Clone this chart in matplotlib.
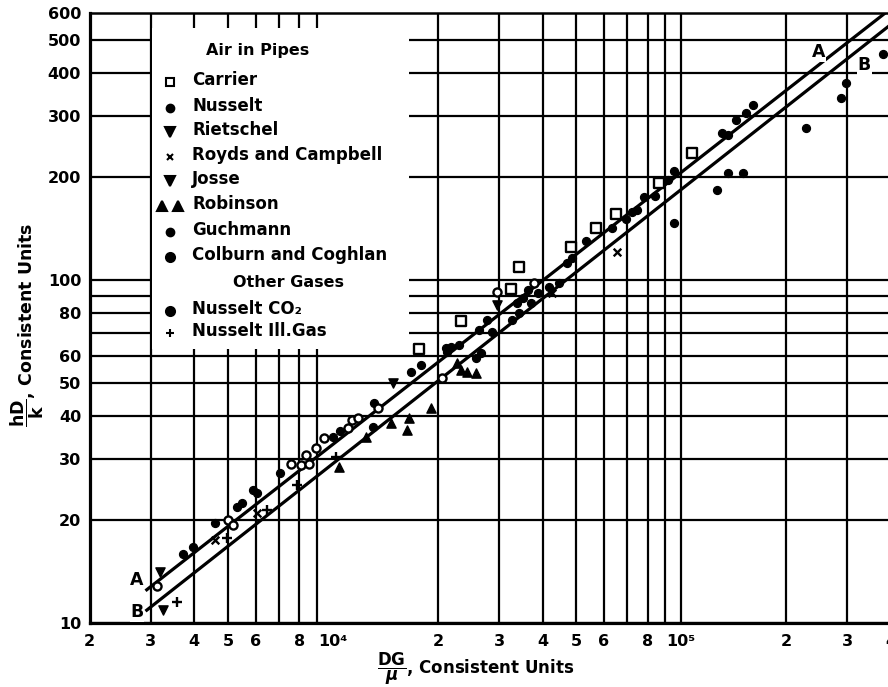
import matplotlib
matplotlib.use("Agg")
import matplotlib.pyplot as plt
from matplotlib.patches import Rectangle

INK = "black"
plt.rcParams.update({
    "font.family": "DejaVu Sans",
    "font.weight": "bold",
    "font.size": 11,
})

# ---- correlation lines (end points) ----
LINE_A_X = [2920, 385000]
LINE_A_Y = [12.5, 600]
LINE_B_X = [2920, 400000]
LINE_B_Y = [10.9, 556]

# ---- data by source ----
carrier_x = [17700, 23300, 32500, 34300, 48300, 56900, 64900, 86300, 107000]
carrier_y = [63, 76, 94, 109, 125, 142, 156, 192, 235]

nusselt_x = [16800, 17900, 21150, 21860, 21300, 23050, 26300, 27700, 32700, 34300,
             35200, 36300, 37000, 33700, 38900, 41700, 44700, 47000, 28700, 25800,
             26600, 48500, 53100, 63100, 69200, 72000, 74500, 78400, 84200, 91600,
             95000, 144000, 153000, 161000]
nusselt_y = [53.9, 56.6, 63.4, 63.8, 61.6, 64.6, 71.5, 76.3, 76.3, 80.1,
             88.4, 93.5, 85.8, 85.8, 91.6, 95.5, 97.9, 112, 70.5, 59.2,
             61.1, 116, 130, 142, 151, 158, 160, 174, 176, 196,
             208, 292, 306, 324]

rietschel_x = [3185, 14900, 29600]
rietschel_y = [14.1, 50.1, 84.5]

royds_x = [4580, 6050, 42500, 65200]
royds_y = [17.5, 20.9, 91.6, 120.6]

josse_x = [3247]
josse_y = [10.9]

robinson_x = [10440, 12480, 14720, 16350, 16570, 19160, 22750, 23340, 24300, 25780]
robinson_y = [28.5, 34.8, 38.3, 36.5, 39.6, 42.4, 57.3, 54.7, 53.9, 53.6]

guchmann_x = [3700, 3960, 4580, 5290, 5470, 5890, 6050, 7030, 9990, 10480, 13150, 13050]
guchmann_y = [15.9, 16.6, 19.6, 21.8, 22.4, 24.4, 23.9, 27.4, 34.8, 36.3, 43.8, 37.3]

colburn_x = [3120, 4990, 5150, 7590, 8110, 8560, 8390, 8960, 9440, 11050, 11350,
             11800, 13500, 20600, 29600, 37700]
colburn_y = [12.8, 20.0, 19.3, 29.1, 28.9, 29.1, 30.9, 32.4, 34.6, 37.0, 39.1,
             39.6, 42.3, 51.8, 92.3, 97.9]

co2_x = [95600, 126500, 136000, 150000, 130500, 136000, 227600, 286600, 298000, 380000]
co2_y = [147, 183, 205, 205, 268, 265, 278, 340, 375, 455]

illgas_x = [3560, 4960, 6450, 7870, 10200]
illgas_y = [11.5, 17.7, 21.4, 25.3, 30.5]

# ---- axes ----
X_TICKS = [2e3, 3e3, 4e3, 5e3, 6e3, 8e3, 1e4, 2e4, 3e4, 4e4, 5e4, 6e4, 8e4,
           1e5, 2e5, 3e5, 4e5]
X_LABELS = ["2", "3", "4", "5", "6", "8", "10\u2074", "2", "3", "4", "5", "6", "8",
            "10\u2075", "2", "3", "4"]
Y_TICKS = [10, 20, 30, 40, 50, 60, 80, 100, 200, 300, 400, 500, 600]
GRID_X = [k * 10**e for e in (3, 4) for k in range(2, 10)] + [1e5, 2e5, 3e5]
GRID_Y = list(range(10, 101, 10)) + [200, 300, 400, 500]

W, H = 888, 687
fig = plt.figure(figsize=(W / 100, H / 100), dpi=100)
ax = fig.add_axes([89.5 / W, 1 - 623 / H, (891 - 89.5) / W, (623 - 13) / H])
ax.set_xscale("log")
ax.set_yscale("log")
ax.set_xlim(2e3, 4e5)
ax.set_ylim(10, 600)

for gx in GRID_X:
    ax.axvline(gx, color=INK, lw=1.6, zorder=1)
for gy in GRID_Y:
    ax.axhline(gy, color=INK, lw=1.6, zorder=1)

ax.set_xticks(X_TICKS)
ax.set_xticklabels(X_LABELS)
ax.set_yticks(Y_TICKS)
ax.set_yticklabels([str(v) for v in Y_TICKS])
ax.minorticks_off()
ax.tick_params(length=0, labelsize=11.5)
ax.tick_params(axis="x", pad=8)
ax.tick_params(axis="y", pad=6)
for side in ["left", "bottom"]:
    ax.spines[side].set_linewidth(2.3)
ax.spines["top"].set_linewidth(1.8)

# white panel behind the key
ax.add_patch(Rectangle((3030, 62.8), 16570 - 3030, 543 - 62.8,
                       facecolor="white", edgecolor="none", zorder=2))

ax.plot(LINE_A_X, LINE_A_Y, color=INK, lw=2.3, zorder=3)
ax.plot(LINE_B_X, LINE_B_Y, color=INK, lw=2.3, zorder=3)

box = dict(facecolor="white", edgecolor="none", pad=0.5)
ax.text(2735, 13.35, "A", ha="center", va="center", fontsize=12.5, bbox=box, zorder=4)
ax.text(2735, 10.77, "B", ha="center", va="center", fontsize=12.5, bbox=box, zorder=4)
ax.text(247500, 462, "A", ha="center", va="center", fontsize=12.5, bbox=box, zorder=4)
ax.text(335700, 423, "B", ha="center", va="center", fontsize=12.5, bbox=box, zorder=4)

kw = dict(color=INK, zorder=5)
ax.scatter(carrier_x, carrier_y, marker="s", s=44, facecolor="white",
           edgecolor=INK, linewidth=1.7, zorder=5)
ax.scatter(nusselt_x, nusselt_y, marker="o", s=32, **kw)
ax.scatter(rietschel_x, rietschel_y, marker="v", s=44, **kw)
ax.scatter(royds_x, royds_y, marker="x", s=30, linewidth=1.7, **kw)
ax.scatter(josse_x, josse_y, marker="v", s=44, **kw)
ax.scatter(robinson_x, robinson_y, marker="^", s=44, **kw)
ax.scatter(guchmann_x, guchmann_y, marker="o", s=32, **kw)
ax.scatter(colburn_x, colburn_y, marker="o", s=34, facecolor="white",
           edgecolor=INK, linewidth=1.7, zorder=5)
ax.scatter(co2_x, co2_y, marker="o", s=32, **kw)
ax.scatter(illgas_x, illgas_y, marker="+", s=44, linewidth=1.7, **kw)

# ---- key ----
def fx(px):
    return px / W

def fy(py):
    return 1 - py / H

KEY_AIR = ["Carrier", "Nusselt", "Rietschel", "Royds and Campbell", "Josse",
           "Robinson", "Guchmann", "Colburn and Coghlan"]
KEY_AIR_ROWS = [80, 106, 130, 155, 179, 204, 230, 255]
KEY_GAS = ["Nusselt CO\u2082", "Nusselt Ill.Gas"]
KEY_GAS_ROWS = [309, 331]
KEY_MARKERS = [("s", "white", 6), ("o", INK, 5.5), ("v", INK, 6.5), ("x", INK, 5),
               ("v", INK, 6.5), ("^", INK, 6.5), ("o", INK, 5.5), ("o", INK, 6.5)]
GAS_MARKERS = [("o", INK, 6.5), ("+", INK, 5.5)]

fig.text(fx(258), fy(50), "Air in Pipes", ha="center", va="center", fontsize=11.5)
fig.text(fx(288), fy(282), "Other Gases", ha="center", va="center", fontsize=11.5)
for label, row, (m, fc, ms) in zip(KEY_AIR + KEY_GAS, KEY_AIR_ROWS + KEY_GAS_ROWS,
                                   KEY_MARKERS + GAS_MARKERS):
    fig.text(fx(192), fy(row), label, ha="left", va="center", fontsize=12)
    xs = [fx(162), fx(178)] if label == "Robinson" else [fx(170)]
    for mx in xs:
        fig.lines.append(plt.Line2D([mx], [fy(row + 2)], marker=m, markersize=ms,
                                    markerfacecolor=fc, markeredgecolor=INK,
                                    markeredgewidth=1.5, linestyle="none",
                                    transform=fig.transFigure, figure=fig))

fig.text(fx(27), fy(325), r"$\dfrac{\mathbf{hD}}{\mathbf{k}}$, Consistent Units",
         rotation=90, ha="center", va="center", fontsize=12.5)
fig.text(fx(476), fy(669), r"$\dfrac{\mathbf{DG}}{\mu}$, Consistent Units",
         ha="center", va="center", fontsize=12)

fig.savefig("out.png", dpi=100, facecolor="white")
